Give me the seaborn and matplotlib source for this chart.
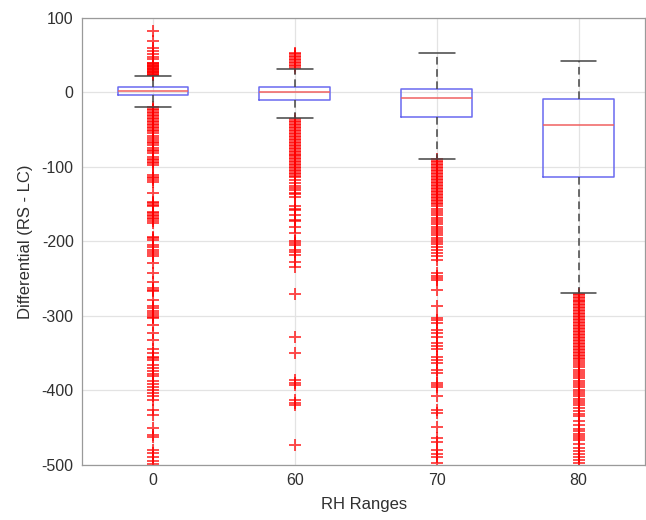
import numpy as np
import pandas as pd
import matplotlib
matplotlib.use("Agg")
import matplotlib.pyplot as plt
import seaborn as sns

# RH range groups (x categories)
rh_groups = ["0", "60", "70", "80"]

# Box statistics
medians = [2.5, 0.0, -7.0, -44.0]
q1s = [-4.0, -9.5, -33.0, -113.0]
q3s = [7.0, 7.5, 4.0, -9.0]
whisker_lo = [-19.0, -34.5, -89.0, -269.0]
whisker_hi = [22.0, 31.5, 53.5, 42.0]

# Outliers per group
outliers_0 = [82, 69, 59, 56, 51, 48, 45, 40, 39, 38, 37, 36, 35, 34, 33, 32, 31,
              30, 29, 28, 27, 26, 25, 24, 23,
              -20, -22, -24, -26, -28, -30, -32, -34, -36, -38, -40, -42, -44,
              -46, -48, -50, -52, -55, -58, -61, -64, -66, -68, -70, -75, -77,
              -79, -81, -87, -89, -91, -93, -95, -97, -111, -113, -115, -118,
              -120, -135, -147, -149, -151, -153, -160, -162, -164, -166, -168,
              -170, -172, -175, -194, -196, -198, -205, -208, -211, -214, -217,
              -220, -229, -242, -254, -262, -265, -267, -278, -287, -290, -293,
              -296, -299, -301, -303, -312, -323, -332, -345, -350, -355, -357,
              -359, -366, -370, -374, -378, -381, -388, -392, -396, -399, -403,
              -408, -413, -426, -433, -450, -460, -462, -480, -484, -489, -495,
              -499]
outliers_60 = [33, 35, 37, 39, 41, 43, 45, 47, 49, 51, 53,
               -36, -38, -40, -42, -44, -46, -48, -50, -52, -54, -56, -58, -60,
               -62, -64, -66, -68, -70, -72, -74, -76, -78, -80, -82, -84, -86,
               -88, -90, -92, -94, -96, -98, -100, -102, -104, -106, -108, -110,
               -112, -114, -117, -122, -125, -128, -131, -135, -137, -140, -153,
               -156, -158, -164, -171, -173, -180, -189, -200, -202, -205, -211,
               -214, -218, -227, -235, -270, -328, -350, -386, -390, -393, -413,
               -417, -420, -473]
outliers_70 = [-90, -92, -94, -96, -98, -100, -102, -104, -106, -108, -110, -112,
               -114, -116, -118, -120, -122, -124, -126, -128, -130, -132, -134,
               -136, -138, -140, -142, -144, -146, -148, -150, -153, -156, -159,
               -162, -165, -168, -171, -174, -177, -180, -183, -186, -189, -192,
               -195, -198, -201, -204, -207, -211, -215, -220, -225, -242, -246,
               -249, -252, -265, -287, -303, -306, -310, -319, -323, -328, -336,
               -340, -345, -355, -359, -363, -372, -376, -390, -393, -396, -408,
               -426, -430, -449, -464, -469, -480, -485, -489, -498]
outliers_80 = [-270, -272, -274, -276, -278, -280, -282, -284, -286, -288, -290,
               -292, -294, -296, -298, -300, -302, -304, -306, -308, -310, -312,
               -314, -316, -318, -320, -322, -324, -326, -328, -330, -332, -334,
               -336, -338, -340, -342, -344, -346, -348, -350, -352, -354, -356,
               -358, -360, -363, -366, -369, -372, -375, -378, -381, -384, -387,
               -390, -393, -396, -399, -402, -405, -408, -411, -414, -417, -420,
               -424, -428, -432, -435, -441, -447, -452, -455, -458, -461, -464,
               -467, -472, -477, -482, -486, -490, -494, -498]

outlier_lists = [outliers_0, outliers_60, outliers_70, outliers_80]

fly_df = pd.DataFrame({
    "RH": [g for g, vals in zip(rh_groups, outlier_lists) for _ in vals],
    "Diff": [v for vals in outlier_lists for v in vals],
})

sns.set_style("whitegrid")
plt.rcParams["font.family"] = ["Liberation Sans", "DejaVu Sans"]
plt.rcParams["axes.unicode_minus"] = False

fig = plt.figure(figsize=(6.46, 5.2), dpi=100)
ax = fig.add_axes([0.127, 0.106, 0.872, 0.8595])

stats = []
for i, g in enumerate(rh_groups):
    stats.append(dict(label=g, med=medians[i], q1=q1s[i], q3=q3s[i],
                      whislo=whisker_lo[i], whishi=whisker_hi[i], fliers=[]))

ax.bxp(stats, positions=range(len(rh_groups)), widths=0.5, capwidths=0.25,
       showfliers=False, manage_ticks=False,
       boxprops=dict(color="#6a6af0", linewidth=1.1),
       medianprops=dict(color="#f06060", linewidth=1.1),
       whiskerprops=dict(color="#444444", linestyle=(0, (5, 3)), linewidth=1.1),
       capprops=dict(color="#444444", linewidth=1.1),
       zorder=3)

sns.stripplot(data=fly_df, x="RH", y="Diff", order=rh_groups, jitter=False,
              marker="+", color="#ff0000", size=9, linewidth=1.4, alpha=0.7,
              ax=ax, zorder=2)

ax.set_xlim(-0.5, 3.47)
ax.set_ylim(-500, 100)
ax.set_yticks(np.arange(-500, 101, 100))
ax.set_xticks(range(len(rh_groups)))
ax.set_xticklabels(rh_groups)

ax.grid(True, color="#e3e3e3", linewidth=0.9)
ax.set_axisbelow(True)
for s in ax.spines.values():
    s.set_visible(True)
    s.set_color("#9a9a9a")
    s.set_linewidth(0.9)
ax.tick_params(axis="both", direction="in", length=4, color="#9a9a9a",
               labelsize=11.5, labelcolor="#303030", pad=6)

ax.set_xlabel("RH Ranges", fontsize=12, color="#303030", labelpad=6)
ax.set_ylabel("Differential (RS - LC)", fontsize=12, color="#303030", labelpad=6)

fig.savefig("out.png", dpi=100)
